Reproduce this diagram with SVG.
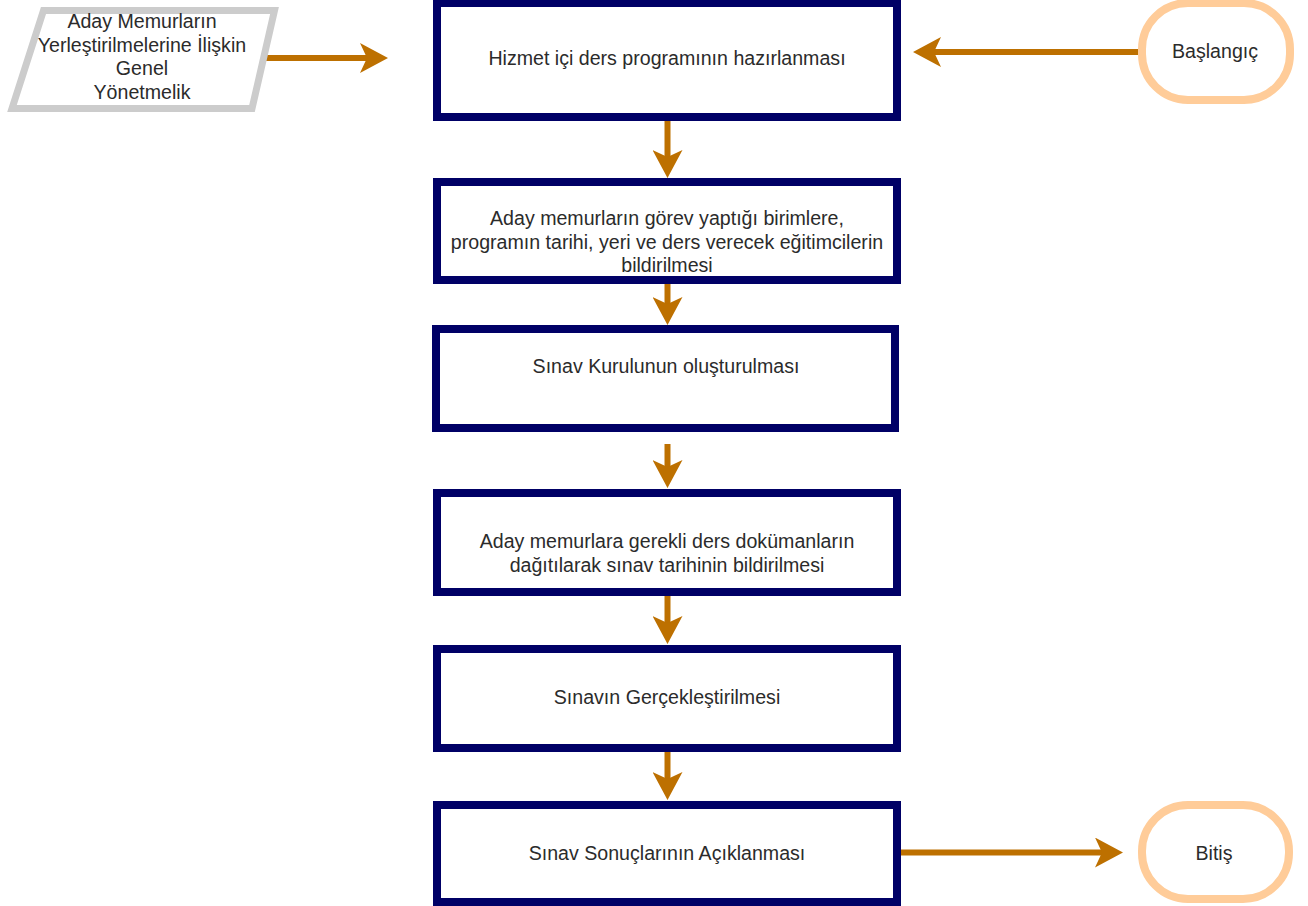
<svg xmlns="http://www.w3.org/2000/svg" width="1308" height="906" viewBox="0 0 1308 906">
<style>
.box{fill:#ffffff;stroke:#000066;stroke-width:8}
.term{fill:#ffffff;stroke:#FFCC99;stroke-width:8}
.data{fill:#ffffff;stroke:#CCCCCC;stroke-width:7}
.t{font-family:"Liberation Sans",Arial,Helvetica,sans-serif;font-size:19.6px;fill:#2b2b2b;text-anchor:middle}
.edge{fill:none;stroke:#BD7000;stroke-width:6;marker-end:url(#ah)}
</style>
<defs>
<marker id="ah" markerUnits="userSpaceOnUse" markerWidth="30" markerHeight="30" viewBox="0 0 30 30" refX="7" refY="15" orient="auto">
<path d="M0,0 L28,15 L0,30 L7,15 Z" fill="#BD7000"/>
</marker>
</defs>
<g id="connectors">
<path class="edge" d="M262,58 L367,58"/>
<path class="edge" d="M1138,52 L934,52"/>
<path class="edge" d="M667.5,121 L667.5,157"/>
<path class="edge" d="M667.5,284 L667.5,304"/>
<path class="edge" d="M667.5,444 L667.5,467"/>
<path class="edge" d="M667.5,596 L667.5,623"/>
<path class="edge" d="M667.5,752 L667.5,779"/>
<path class="edge" d="M901,852.5 L1102,852.5"/>
</g>
<g id="node-yonetmelik">
<polygon class="data" points="43.5,10.5 274.5,10.5 252,108.5 12,108.5"/>
<text class="t" x="142" y="28">Aday Memurların</text>
<text class="t" x="142" y="52">Yerleştirilmelerine İlişkin</text>
<text class="t" x="142" y="75">Genel</text>
<text class="t" x="142" y="99">Yönetmelik</text>
</g>
<g id="node-baslangic">
<rect class="term" x="1142" y="3" width="148" height="97" rx="46" ry="46"/>
<text class="t" x="1215" y="58">Başlangıç</text>
</g>
<g id="node-hizmet">
<rect class="box" x="437" y="3" width="460" height="114"/>
<text class="t" x="667" y="65">Hizmet içi ders programının hazırlanması</text>
</g>
<g id="node-bildirim">
<rect class="box" x="437" y="182" width="460" height="98"/>
<text class="t" x="667" y="225">Aday memurların görev yaptığı birimlere,</text>
<text class="t" x="667" y="249">programın tarihi, yeri ve ders verecek eğitimcilerin</text>
<text class="t" x="667" y="272">bildirilmesi</text>
</g>
<g id="node-kurul">
<rect class="box" x="436" y="329" width="459" height="99"/>
<text class="t" x="666" y="373">Sınav Kurulunun oluşturulması</text>
</g>
<g id="node-dokuman">
<rect class="box" x="437" y="493" width="460" height="99"/>
<text class="t" x="667" y="548">Aday memurlara gerekli ders dokümanların</text>
<text class="t" x="667" y="572">dağıtılarak sınav tarihinin bildirilmesi</text>
</g>
<g id="node-sinav">
<rect class="box" x="437" y="649" width="460" height="99"/>
<text class="t" x="667" y="704">Sınavın Gerçekleştirilmesi</text>
</g>
<g id="node-sonuc">
<rect class="box" x="437" y="805" width="460" height="97"/>
<text class="t" x="667" y="860">Sınav Sonuçlarının Açıklanması</text>
</g>
<g id="node-bitis">
<rect class="term" x="1142" y="805" width="147" height="94" rx="46" ry="46"/>
<text class="t" x="1214" y="860">Bitiş</text>
</g>
</svg>
